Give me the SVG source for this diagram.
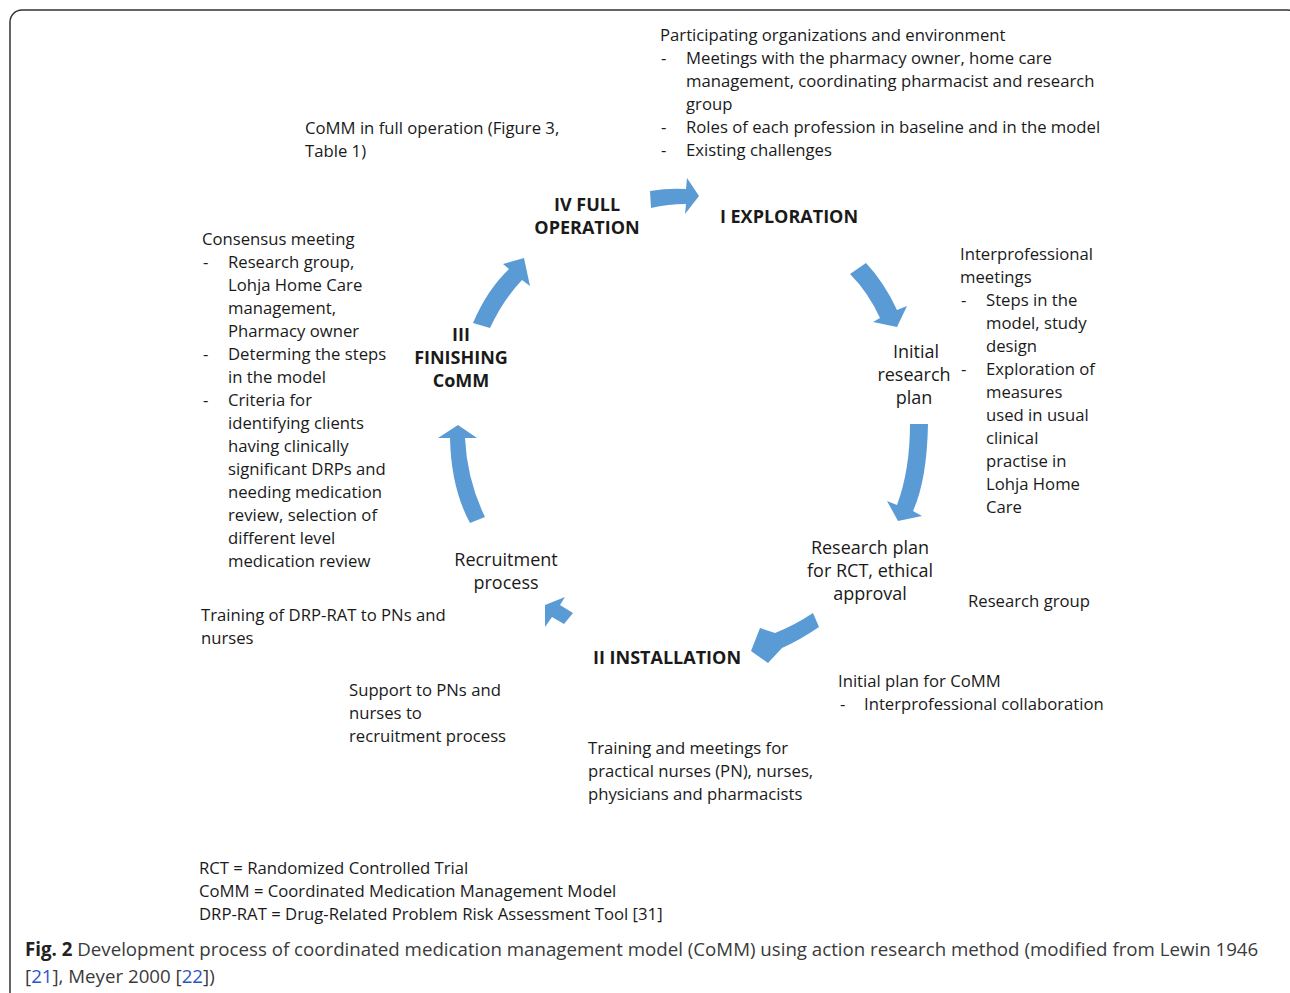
<svg xmlns="http://www.w3.org/2000/svg" width="1290" height="993" viewBox="0 0 1290 993">
<style>
text{font-family:"Open Sans","Liberation Sans",sans-serif;fill:#1a1a1a}
.a{font-size:16.7px}
.n{font-size:18px;text-anchor:middle}
.s{font-size:18px;font-weight:bold;text-anchor:middle}
.c{font-size:18.7px;fill:#3a3a3a}
.lk{fill:#2a55c9}
.arr{fill:#5b9bd5}
</style>
<rect x="10" y="10" width="1290" height="1000" rx="12" fill="#fff" stroke="#333" stroke-width="1.5"/>
<g id="connectors">
<path class="arr" d="M650,191 Q668,188 686,189 L687,178 L699,196 L685,214 L686,204 Q668,204 651,208 Z"/>
<path class="arr" d="M850,274 Q868,292 880,318 L873,322 L897,327 L907,306 L897,310 Q884,282 866,263 Z"/>
<path class="arr" d="M910,424 L928,424 Q927,480 913,511 L922,516 L898,521 L887,501 L897,505 Q910,470 910,424 Z"/>
<path class="arr" d="M813,613 L819,627 Q800,640 782,648 L768,663 L751,651 L760,628 L775,633 Q795,625 813,613 Z"/>
<path class="arr" d="M545,605 L565,597 L560,605 L573,613 L564,624 L552,617 L545,627 Z"/>
<path class="arr" d="M470,523 Q451,488 450,438 L438,438 L458,425 L477,438 L465,438 Q467,480 485,517 Z"/>
<path class="arr" d="M473,323 Q487,290 509,269 L503,264 L524,258 L530,286 L522,280 Q503,300 490,328 Z"/>
</g>
<g id="node-exploration-notes">
<text class="a" x="660" y="41">Participating organizations and environment</text>
<text class="a" x="661" y="64">-</text><text class="a" x="686" y="64">Meetings with the pharmacy owner, home care</text>
<text class="a" x="686" y="87">management, coordinating pharmacist and research</text>
<text class="a" x="686" y="110">group</text>
<text class="a" x="661" y="133">-</text><text class="a" x="686" y="133">Roles of each profession in baseline and in the model</text>
<text class="a" x="661" y="156">-</text><text class="a" x="686" y="156">Existing challenges</text>
</g>
<g id="node-full-operation-notes">
<text class="a" x="305" y="134">CoMM in full operation (Figure 3,</text>
<text class="a" x="305" y="157">Table 1)</text>
</g>
<g id="node-iv-full-operation">
<text class="s" x="587" y="211">IV FULL</text>
<text class="s" x="587" y="234">OPERATION</text>
</g>
<g id="node-i-exploration">
<text class="s" x="789" y="223">I EXPLORATION</text>
</g>
<g id="node-consensus-notes">
<text class="a" x="202" y="245">Consensus meeting</text>
<text class="a" x="203" y="268">-</text><text class="a" x="228" y="268">Research group,</text>
<text class="a" x="228" y="291">Lohja Home Care</text>
<text class="a" x="228" y="314">management,</text>
<text class="a" x="228" y="337">Pharmacy owner</text>
<text class="a" x="203" y="360">-</text><text class="a" x="228" y="360">Determing the steps</text>
<text class="a" x="228" y="383">in the model</text>
<text class="a" x="203" y="406">-</text><text class="a" x="228" y="406">Criteria for</text>
<text class="a" x="228" y="429">identifying clients</text>
<text class="a" x="228" y="452">having clinically</text>
<text class="a" x="228" y="475">significant DRPs and</text>
<text class="a" x="228" y="498">needing medication</text>
<text class="a" x="228" y="521">review, selection of</text>
<text class="a" x="228" y="544">different level</text>
<text class="a" x="228" y="567">medication review</text>
</g>
<g id="node-iii-finishing">
<text class="s" x="461" y="341">III</text>
<text class="s" x="461" y="364">FINISHING</text>
<text class="s" x="461" y="387">CoMM</text>
</g>
<g id="node-interprofessional-notes">
<text class="a" x="960" y="260">Interprofessional</text>
<text class="a" x="960" y="283">meetings</text>
<text class="a" x="961" y="306">-</text><text class="a" x="986" y="306">Steps in the</text>
<text class="a" x="986" y="329">model, study</text>
<text class="a" x="986" y="352">design</text>
<text class="a" x="961" y="375">-</text><text class="a" x="986" y="375">Exploration of</text>
<text class="a" x="986" y="398">measures</text>
<text class="a" x="986" y="421">used in usual</text>
<text class="a" x="986" y="444">clinical</text>
<text class="a" x="986" y="467">practise in</text>
<text class="a" x="986" y="490">Lohja Home</text>
<text class="a" x="986" y="513">Care</text>
</g>
<g id="node-initial-research-plan">
<text class="n" x="916" y="358">Initial</text>
<text class="n" x="914" y="381">research</text>
<text class="n" x="914" y="404">plan</text>
</g>
<g id="node-research-plan-rct">
<text class="n" x="870" y="554">Research plan</text>
<text class="n" x="870" y="577">for RCT, ethical</text>
<text class="n" x="870" y="600">approval</text>
</g>
<g id="node-research-group">
<text class="a" x="968" y="607">Research group</text>
</g>
<g id="node-recruitment-process">
<text class="n" x="506" y="566">Recruitment</text>
<text class="n" x="506" y="589">process</text>
</g>
<g id="node-training-drp-rat">
<text class="a" x="201" y="621">Training of DRP-RAT to PNs and</text>
<text class="a" x="201" y="644">nurses</text>
</g>
<g id="node-ii-installation">
<text class="s" x="667" y="664">II INSTALLATION</text>
</g>
<g id="node-support-notes">
<text class="a" x="349" y="696">Support to PNs and</text>
<text class="a" x="349" y="719">nurses to</text>
<text class="a" x="349" y="742">recruitment process</text>
</g>
<g id="node-initial-plan-comm">
<text class="a" x="838" y="687">Initial plan for CoMM</text>
<text class="a" x="840" y="710">-</text><text class="a" x="864" y="710">Interprofessional collaboration</text>
</g>
<g id="node-training-meetings">
<text class="a" x="588" y="754">Training and meetings for</text>
<text class="a" x="588" y="777">practical nurses (PN), nurses,</text>
<text class="a" x="588" y="800">physicians and pharmacists</text>
</g>
<g id="legend">
<text class="a" x="199" y="874">RCT = Randomized Controlled Trial</text>
<text class="a" x="199" y="897">CoMM = Coordinated Medication Management Model</text>
<text class="a" x="199" y="920">DRP-RAT = Drug-Related Problem Risk Assessment Tool [31]</text>
</g>
<g id="caption">
<text class="c" x="25" y="956"><tspan font-weight="bold" fill="#222">Fig. 2</tspan> Development process of coordinated medication management model (CoMM) using action research method (modified from Lewin 1946</text>
<text class="c" x="25" y="983">[<tspan class="lk">21</tspan>], Meyer 2000 [<tspan class="lk">22</tspan>])</text>
</g>
</svg>
